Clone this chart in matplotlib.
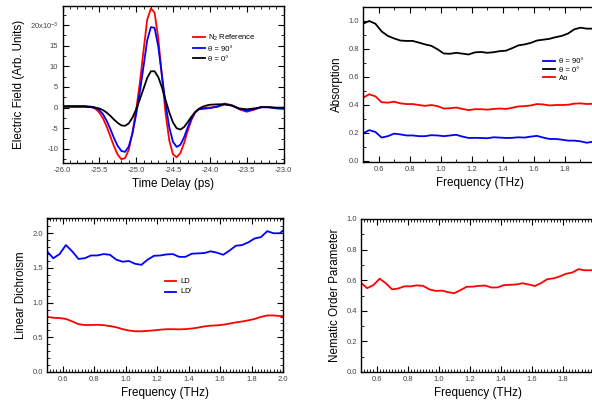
import numpy as np
import matplotlib
matplotlib.use("Agg")
import matplotlib.pyplot as plt
from matplotlib.ticker import MultipleLocator, FuncFormatter

plt.rcParams['font.family'] = ['Liberation Sans', 'DejaVu Sans']
plt.rcParams['mathtext.fontset'] = 'custom'
plt.rcParams['mathtext.rm'] = 'Liberation Sans'
plt.rcParams['mathtext.it'] = 'Liberation Sans'

# ---------------- time domain (x10^-3) ----------------
t_ps = [-26.0, -25.8, -25.7, -25.6, -25.55, -25.5, -25.45, -25.4, -25.35, -25.3,
        -25.25, -25.2, -25.15, -25.1, -25.05, -25.0, -24.95, -24.9, -24.85, -24.8,
        -24.75, -24.7, -24.65, -24.6, -24.55, -24.5, -24.45, -24.4, -24.35, -24.3,
        -24.25, -24.2, -24.15, -24.1, -24.05, -24.0, -23.9, -23.8, -23.7, -23.6,
        -23.5, -23.4, -23.3, -23.2, -23.1, -23.0]
e_ref = [0.3, 0.3, 0.3, 0.1, -0.3, -1.2, -2.6, -4.6, -7.0, -9.4,
         -11.4, -12.5, -12.2, -10.2, -6.0, -0.5, 6.0, 13.8, 21.3, 24.0,
         23.0, 16.8, 7.5, -1.5, -8.0, -11.3, -12.0, -11.0, -8.6, -5.6,
         -3.0, -1.2, -0.3, -0.1, 0.0, 0.0, 0.3, 1.0, 0.6, -0.4,
         -1.0, -0.5, 0.2, 0.1, -0.2, -0.3]
e_90 = [0.4, 0.4, 0.4, 0.2, 0.0, -0.6, -1.6, -3.2, -5.2, -7.4,
        -9.3, -10.5, -10.7, -9.4, -6.2, -1.6, 3.8, 10.0, 16.3, 19.5,
        19.3, 14.8, 7.8, 0.8, -4.8, -8.3, -9.5, -9.0, -7.2, -4.8,
        -2.6, -1.1, -0.4, -0.3, -0.2, -0.1, 0.2, 0.8, 0.5, -0.3,
        -0.8, -0.4, 0.1, 0.1, -0.1, -0.2]
e_0 = [0.2, 0.2, 0.2, 0.1, -0.05, -0.2, -0.6, -1.2, -2.0, -2.9,
       -3.7, -4.3, -4.4, -3.8, -2.4, -0.4, 2.0, 4.6, 7.2, 8.8,
       8.8, 7.4, 4.9, 1.8, -1.2, -3.6, -5.0, -5.3, -4.7, -3.5,
       -2.2, -1.1, -0.3, 0.2, 0.5, 0.7, 0.8, 0.8, 0.5, -0.2,
       -0.4, -0.2, 0.1, 0.1, 0.0, 0.0]

# ---------------- frequency domain ----------------
freq = [0.50, 0.54, 0.58, 0.62, 0.66, 0.70, 0.74, 0.78, 0.82, 0.86,
        0.90, 0.94, 0.98, 1.02, 1.06, 1.10, 1.14, 1.18, 1.22, 1.26,
        1.30, 1.34, 1.38, 1.42, 1.46, 1.50, 1.54, 1.58, 1.62, 1.66,
        1.70, 1.74, 1.78, 1.82, 1.86, 1.90, 1.94, 1.98, 2.02]
abs_0 = [0.98, 1.00, 0.98, 0.925, 0.893, 0.875, 0.86, 0.857, 0.857, 0.845,
         0.832, 0.822, 0.797, 0.767, 0.765, 0.772, 0.766, 0.76, 0.775, 0.778,
         0.772, 0.776, 0.784, 0.787, 0.805, 0.825, 0.832, 0.843, 0.86, 0.866,
         0.872, 0.884, 0.893, 0.91, 0.94, 0.952, 0.945, 0.945, 0.945]
abs_ao = [0.45, 0.475, 0.46, 0.418, 0.415, 0.422, 0.41, 0.405, 0.405, 0.398,
          0.392, 0.398, 0.39, 0.373, 0.375, 0.38, 0.37, 0.362, 0.368, 0.368,
          0.365, 0.37, 0.373, 0.37, 0.378, 0.388, 0.39, 0.395, 0.405, 0.402,
          0.395, 0.398, 0.398, 0.4, 0.408, 0.41, 0.405, 0.407, 0.407]
abs_90 = [0.195, 0.218, 0.205, 0.165, 0.175, 0.193, 0.188, 0.18, 0.18, 0.175,
          0.175, 0.182, 0.18, 0.175, 0.18, 0.185, 0.172, 0.162, 0.163, 0.162,
          0.16, 0.167, 0.165, 0.162, 0.163, 0.167, 0.165, 0.172, 0.177, 0.165,
          0.155, 0.155, 0.15, 0.143, 0.143, 0.138, 0.128, 0.135, 0.137]
ld = [0.795, 0.782, 0.778, 0.765, 0.73, 0.69, 0.677, 0.678, 0.68, 0.675,
      0.662, 0.645, 0.618, 0.598, 0.587, 0.587, 0.593, 0.6, 0.61, 0.617,
      0.617, 0.615, 0.618, 0.627, 0.64, 0.657, 0.668, 0.672, 0.682, 0.698,
      0.715, 0.728, 0.745, 0.765, 0.795, 0.815, 0.815, 0.808, 0.805]
ld_p = [1.74, 1.64, 1.70, 1.83, 1.74, 1.63, 1.64, 1.68, 1.68, 1.70,
        1.69, 1.62, 1.59, 1.60, 1.56, 1.545, 1.62, 1.675, 1.68, 1.695,
        1.70, 1.66, 1.66, 1.705, 1.71, 1.715, 1.74, 1.72, 1.69, 1.75,
        1.82, 1.83, 1.87, 1.925, 1.945, 2.03, 2.0, 2.0, 2.08]
s_order = [0.582, 0.548, 0.568, 0.61, 0.58, 0.54, 0.546, 0.56, 0.56, 0.566,
           0.563, 0.54, 0.53, 0.532, 0.522, 0.515, 0.535, 0.557, 0.558, 0.563,
           0.565, 0.552, 0.553, 0.568, 0.57, 0.572, 0.58, 0.572, 0.562, 0.582,
           0.607, 0.612, 0.625, 0.642, 0.65, 0.672, 0.665, 0.665, 0.67]

RED, BLUE, BLACK = '#ff0000', '#0000ff', '#000000'
LW = 1.3
TICK_COL = '#444444'
LAB = 8.4

fig = plt.figure(figsize=(5.92, 4.01), dpi=100, facecolor='white')

ax1 = fig.add_axes([62.5/592, 1-163/401, 221/592, 157/401])
ax2 = fig.add_axes([363/592, 1-162/401, 233/592, 155/401])
ax3 = fig.add_axes([47/592, 1-372/401, 236/592, 154/401])
ax4 = fig.add_axes([361/592, 1-372/401, 233/592, 153/401])


def style(ax, xmaj, xmin, ymaj, ymin, right=True):
    ax.xaxis.set_major_locator(MultipleLocator(xmaj))
    ax.xaxis.set_minor_locator(MultipleLocator(xmin))
    ax.yaxis.set_major_locator(MultipleLocator(ymaj))
    ax.yaxis.set_minor_locator(MultipleLocator(ymin))
    ax.tick_params(which='both', direction='in', top=True, right=right,
                   labelsize=5.5, labelcolor=TICK_COL, pad=3)
    ax.tick_params(which='major', length=4, width=0.8)
    ax.tick_params(which='minor', length=2, width=0.6)
    for s in ax.spines.values():
        s.set_linewidth(1.0)


def freq_fmt(limit):
    return FuncFormatter(lambda v, p: '%.1f' % v if v < limit else '')


# --- time domain
ax1.plot(t_ps, e_ref, color=RED, lw=LW, label=r'N$_2$ Reference')
ax1.plot(t_ps, e_90, color=BLUE, lw=LW, label='θ = 90°')
ax1.plot(t_ps, e_0, color=BLACK, lw=LW, label='θ = 0°')
ax1.set_xlim(-26.0, -23.0)
ax1.set_ylim(-13.4, 24.6)
style(ax1, 0.5, 0.1, 5, 2.5)
ax1.yaxis.set_major_formatter(FuncFormatter(
    lambda v, p: r'20x10$^{-3}$' if abs(v - 20) < 1e-6 else '%g' % v))
ax1.xaxis.set_major_formatter(FuncFormatter(lambda v, p: '%.1f' % v))
ax1.set_xlabel('Time Delay (ps)', fontsize=LAB, labelpad=3)
ax1.set_ylabel('Electric Field (Arb. Units)', fontsize=LAB, labelpad=3)
ax1.legend(loc='upper left', bbox_to_anchor=(0.56, 0.875), fontsize=5.5,
           frameon=False, handlelength=1.5, handletextpad=0.5, labelspacing=0.35)

# --- absorption
ax2.plot(freq, abs_90, color=BLUE, lw=LW, label='θ = 90°')
ax2.plot(freq, abs_0, color=BLACK, lw=LW, label='θ = 0°')
ax2.plot(freq, abs_ao, color=RED, lw=LW, label='Ao')
ax2.set_xlim(0.5, 2.0)
ax2.set_ylim(-0.01, 1.1)
style(ax2, 0.2, 0.1, 0.2, 0.1, right=False)
ax2.xaxis.set_major_formatter(freq_fmt(1.95))
ax2.set_xlabel('Frequency (THz)', fontsize=LAB, labelpad=3)
ax2.set_ylabel('Absorption', fontsize=LAB, labelpad=4)
ax2.legend(loc='upper left', bbox_to_anchor=(0.745, 0.715), fontsize=5.5,
           frameon=False, handlelength=1.5, handletextpad=0.5, labelspacing=0.1)

# --- linear dichroism
ax3.plot(freq, ld, color=RED, lw=LW, label='LD')
ax3.plot(freq, ld_p, color=BLUE, lw=LW, label=r"LD$^{/}$")
ax3.set_xlim(0.5, 2.0)
ax3.set_ylim(0.0, 2.22)
style(ax3, 0.2, 0.02, 0.5, 0.1)
ax3.xaxis.set_major_formatter(freq_fmt(2.05))
ax3.set_xlabel('Frequency (THz)', fontsize=LAB, labelpad=3)
ax3.set_ylabel('Linear Dichroism', fontsize=LAB, labelpad=4)
ax3.legend(loc='upper left', bbox_to_anchor=(0.47, 0.655), fontsize=5.5,
           frameon=False, handlelength=1.5, handletextpad=0.5, labelspacing=0.1)

# --- nematic order parameter
ax4.plot(freq, s_order, color=RED, lw=LW)
ax4.set_xlim(0.5, 2.0)
ax4.set_ylim(0.0, 1.0)
style(ax4, 0.2, 0.02, 0.2, 0.1, right=False)
ax4.xaxis.set_major_formatter(freq_fmt(1.95))
ax4.set_xlabel('Frequency (THz)', fontsize=LAB, labelpad=3)
ax4.set_ylabel('Nematic Order Parameter', fontsize=LAB, labelpad=4)

fig.savefig('out.png', dpi=100)
